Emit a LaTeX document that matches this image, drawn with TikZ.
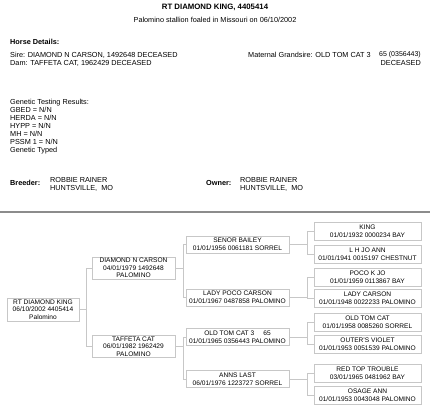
\documentclass[tikz,border=0pt]{standalone}
\usepackage{fontspec}
\setmainfont{Liberation Sans}
\usetikzlibrary{positioning}
\tikzset{
  txt/.style={inner sep=0pt,anchor=west,font=\fontsize{7.3}{8}\selectfont},
  txtbold/.style={txt,font=\fontsize{7.3}{8}\selectfont\bfseries},
  pedbox/.style={draw=black!22,line width=0.6pt,fill=white,align=center,
    inner sep=1pt,font=\fontsize{6.6}{7.6}\selectfont},
  horsebox/.style={pedbox,minimum width=72pt,minimum height=23pt},
  parentbox/.style={pedbox,minimum width=83pt,minimum height=22pt},
  grandbox/.style={pedbox,minimum width=103pt,minimum height=17pt},
  greatbox/.style={pedbox,minimum width=107pt,minimum height=18pt},
  link/.style={draw=black!22,line width=0.6pt}
}

\begin{document}
\begin{tikzpicture}[x=1pt,y=-1pt]
  \useasboundingbox (0,0) rectangle (430,413);
  % header
  \node[txtbold,anchor=center,font=\fontsize{7.8}{9}\selectfont\bfseries] (title) at (215,7) {RT DIAMOND KING, 4405414};
  \node[txt,anchor=center] (subtitle) at (215,20) {Palomino stallion foaled in Missouri on 06/10/2002};
  \node[txtbold] (details) at (10,42) {Horse Details:};
  \node[txt] (sireline) at (10,55) {Sire: DIAMOND N CARSON, 1492648 DECEASED};
  \node[txt] (damline) at (10,63) {Dam: TAFFETA CAT, 1962429 DECEASED};
  \node[txt] (mgsline) at (248,55) {Maternal Grandsire: OLD TOM CAT 3};
  \node[txt,anchor=east,font=\fontsize{7}{8}\selectfont] (mgsnum) at (421,55) {65 (0356443)};
  \node[txt,anchor=east] (mgsdead) at (421,63) {DECEASED};
  \node[txt,anchor=north west,align=left] (genetic) at (10,99)
    {Genetic Testing Results:\\GBED = N/N\\HERDA = N/N\\HYPP = N/N\\MH = N/N\\PSSM 1 = N/N\\Genetic Typed};
  \node[txtbold] (breeder) at (10,183) {Breeder:};
  \node[txt,anchor=north west,align=left] (breedername) at (50,177) {ROBBIE RAINER\\HUNTSVILLE,\ \ MO};
  \node[txtbold] (owner) at (206,183) {Owner:};
  \node[txt,anchor=north west,align=left] (ownername) at (240,177) {ROBBIE RAINER\\HUNTSVILLE,\ \ MO};
  \draw[black!45,line width=1.6pt] (0,212) -- (430,212);

  % pedigree
  \node[horsebox] (horse) at (43,309.5) {RT DIAMOND KING\\06/10/2002 4405414\\Palomino};
  \node[parentbox] (sire) at (133.5,268) {DIAMOND N CARSON\\04/01/1979 1492648\\PALOMINO};
  \node[parentbox] (dam) at (133.5,346.5) {TAFFETA CAT\\06/01/1982 1962429\\PALOMINO};
  \node[grandbox] (ss) at (237.5,244.5) {SENOR BAILEY\\01/01/1956 0061181 SORREL};
  \node[grandbox] (sd) at (237.5,297.5) {LADY POCO CARSON\\01/01/1967 0487858 PALOMINO};
  \node[grandbox] (ds) at (237.5,337) {OLD TOM CAT 3\ \ \ \ \ 65\\01/01/1965 0356443 PALOMINO};
  \node[grandbox] (dd) at (237.5,379) {ANNS LAST\\06/01/1976 1223727 SORREL};
  \node[greatbox] (sss) at (367.5,231.5) {KING\\01/01/1932 0000234 BAY};
  \node[greatbox] (ssd) at (367.5,254.5) {L H JO ANN\\01/01/1941 0015197 CHESTNUT};
  \node[greatbox] (sds) at (367.5,277.5) {POCO K JO\\01/01/1959 0113867 BAY};
  \node[greatbox] (sdd) at (367.5,298) {LADY CARSON\\01/01/1948 0022233 PALOMINO};
  \node[greatbox] (dss) at (367.5,322) {OLD TOM CAT\\01/01/1958 0085260 SORREL};
  \node[greatbox] (dsd) at (367.5,344.5) {OUTER'S VIOLET\\01/01/1953 0051539 PALOMINO};
  \node[greatbox] (dds) at (367.5,373) {RED TOP TROUBLE\\03/01/1965 0481962 BAY};
  \node[greatbox] (ddd) at (367.5,395.5) {OSAGE ANN\\01/01/1953 0043048 PALOMINO};

  \path[link]
    (horse.east) -- ++(7,0) |- (sire.west)
    (horse.east) -- ++(7,0) |- (dam.west)
    (sire.east) -- ++(8,0) |- (ss.west)
    (sire.east) -- ++(8,0) |- (sd.west)
    (dam.east) -- ++(8,0) |- (ds.west)
    (dam.east) -- ++(8,0) |- (dd.west)
    (ss.east) -- ++(18,0) |- (sss.west)
    (ss.east) -- ++(18,0) |- (ssd.west)
    (sd.east) -- ++(18,0) |- (sds.west)
    (sd.east) -- ++(18,0) |- (sdd.west)
    (ds.east) -- ++(18,0) |- (dss.west)
    (ds.east) -- ++(18,0) |- (dsd.west)
    (dd.east) -- ++(18,0) |- (dds.west)
    (dd.east) -- ++(18,0) |- (ddd.west);
\end{tikzpicture}
\end{document}
